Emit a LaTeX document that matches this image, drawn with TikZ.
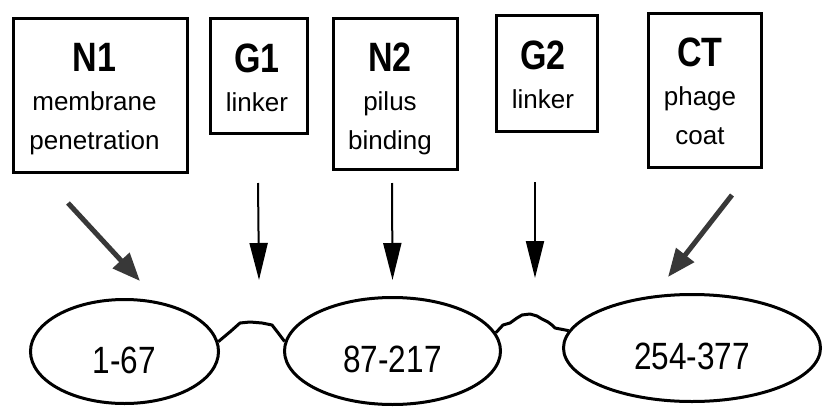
\documentclass[tikz,border=0pt]{standalone}
\usepackage{fontspec}
\setmainfont{Liberation Sans}
\newfontfamily\narrowfont[FakeStretch=0.83]{Liberation Sans}
\usetikzlibrary{arrows.meta,shapes.geometric}

\newcommand{\domtitle}[1]{{\narrowfont\bfseries\fontsize{41}{39}\selectfont #1}}

\begin{document}
\begin{tikzpicture}[
  x=1pt, y=-1pt,
  font=\fontsize{26}{39}\selectfont,
  domainbox/.style={
    draw=black,
    line width=3.2pt,
    inner sep=0pt
  },
  boxtext/.style={anchor=north, align=center, inner sep=0pt},
  fold/.style={
    ellipse,
    draw=black,
    line width=3pt,
    inner sep=0pt,
    text height=43pt,
    text depth=0pt,
    font=\narrowfont\fontsize{38}{40}\selectfont
  },
  heavyarrow/.style={-{Triangle[length=28pt,width=22pt]}, line width=5pt, draw=black!78},
  thinarrow/.style={-{Triangle[length=37pt,width=18pt]}, line width=2pt, draw=black},
  linker/.style={line width=3pt, line join=round, draw=black}
]
\useasboundingbox (0,0) rectangle (825,407);

% domain boxes
\node[domainbox, minimum width=174pt, minimum height=154pt] (n1box) at (100.5,95.5) {};
\node[domainbox, minimum width=97pt, minimum height=115pt] (g1box) at (259,76) {};
\node[domainbox, minimum width=124pt, minimum height=151pt] (n2box) at (395.5,94) {};
\node[domainbox, minimum width=101pt, minimum height=116pt] (g2box) at (547,73.5) {};
\node[domainbox, minimum width=113pt, minimum height=154pt] (ctbox) at (705,90.5) {};

\node[boxtext] (n1) at (94.5,43.5) {\domtitle{N1}\\membrane\\penetration};
\node[boxtext] (g1) at (257,43.5) {\domtitle{G1}\\linker};
\node[boxtext] (n2) at (390,43) {\domtitle{N2}\\pilus\\binding};
\node[boxtext] (g2) at (543,40.5) {\domtitle{G2}\\linker};
\node[boxtext] (ct) at (700,37.5) {\domtitle{CT}\\phage\\coat};

% folded domains
\node[fold, minimum width=188pt, minimum height=104pt] (d1) at (124.5,351.5) {1-67};
\node[fold, minimum width=216pt, minimum height=107pt] (d2) at (392.5,351) {87-217};
\node[fold, minimum width=257pt, minimum height=107pt] (d3) at (692,348) {254-377};

\draw[linker] (d1.6) -- (231,331) -- (240,323) -- (250,322) -- (262,323)
  -- (272,325) -- (279,334) -- (d2.175);
\draw[linker] (d2.10) -- (503,325) -- (510,323) -- (517,318) -- (522,315)
  -- (530,314) -- (537,316) -- (542,319) -- (548,322) -- (552,325)
  -- (555,328) -- (d3.172);

% pointers
\coordinate (n1tail) at (68,203);
\coordinate (n1tip) at (140,281);
\coordinate (g1tail) at (258,183);
\coordinate (g1tip) at (259,280);
\coordinate (n2tail) at (392,183);
\coordinate (n2tip) at (392.5,280);
\coordinate (g2tail) at (535,182);
\coordinate (g2tip) at (535,278);
\coordinate (cttail) at (732,195);
\coordinate (cttip) at (668,277);

\draw[heavyarrow] (n1tail) -- (n1tip);
\draw[thinarrow] (g1tail) -- (g1tip);
\draw[thinarrow] (n2tail) -- (n2tip);
\draw[thinarrow] (g2tail) -- (g2tip);
\draw[heavyarrow] (cttail) -- (cttip);

\end{tikzpicture}
\end{document}
